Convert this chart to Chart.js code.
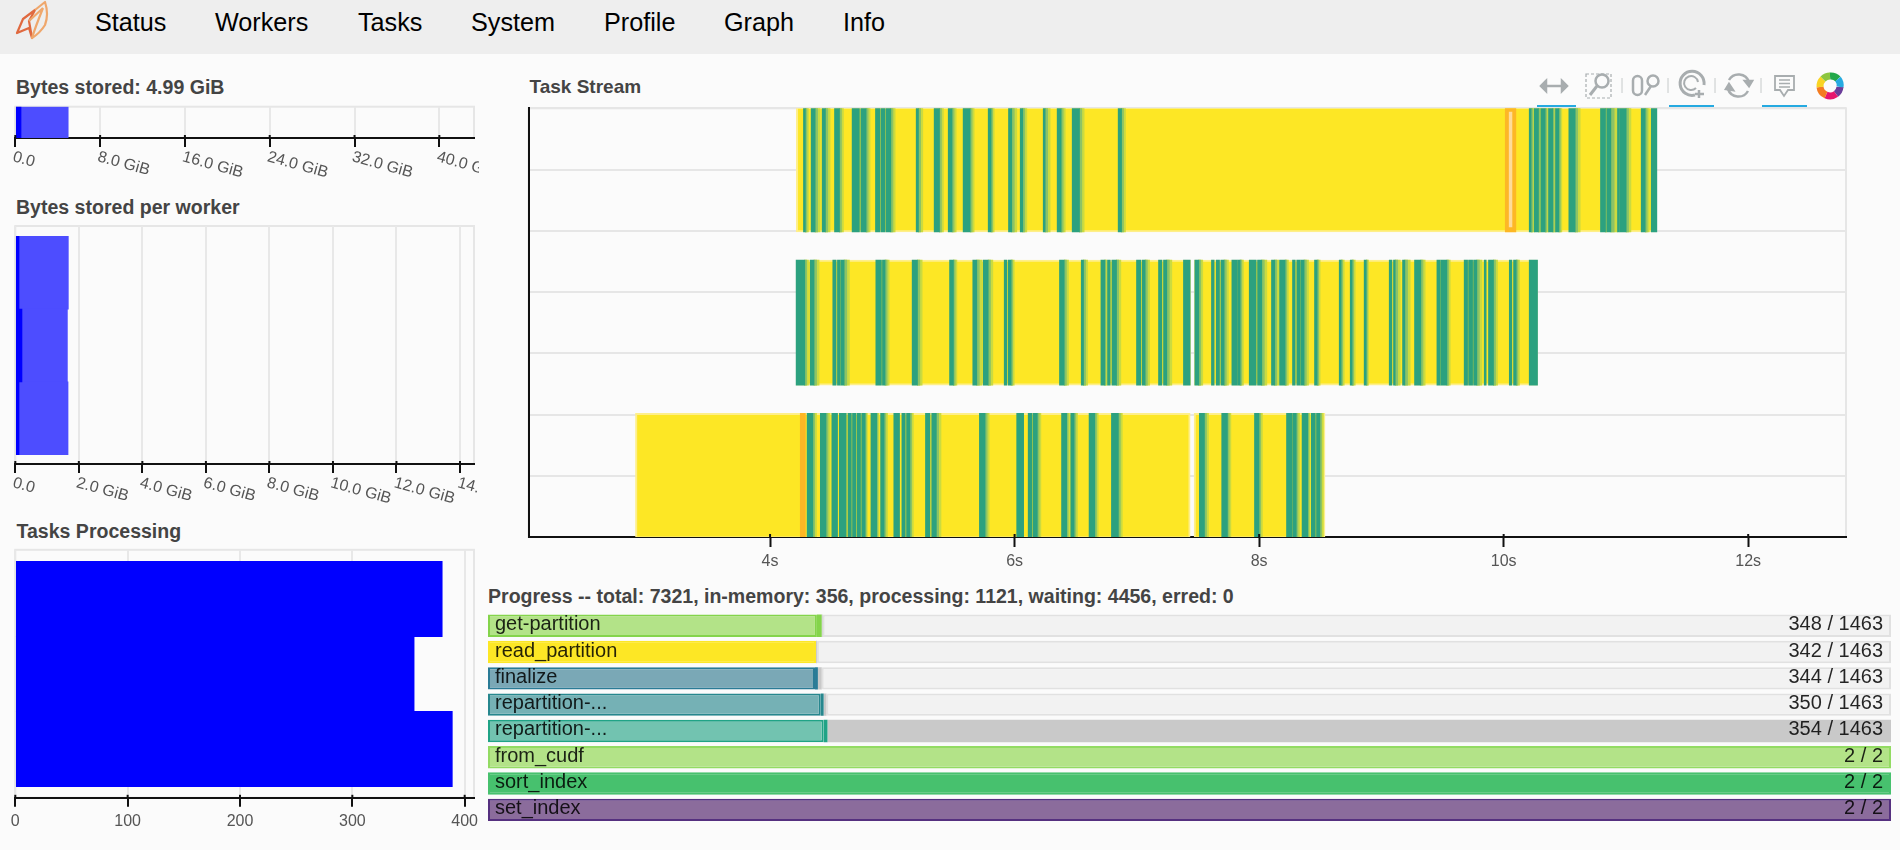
<!DOCTYPE html>
<html>
<head>
<meta charset="utf-8">
<title>Dask dashboard</title>
<script src="https://cdn.jsdelivr.net/npm/chart.js@4"></script>
<style>
html, body { margin: 0; padding: 0; width: 1900px; height: 850px; overflow: hidden; background: #fbfbfb; font-family: "Liberation Sans", Arial, sans-serif; }
#nav { position: absolute; left: 0; top: 0; width: 1900px; height: 54px; background: #eeeeee; }
#nav span { position: absolute; top: 0; line-height: 45px; font-size: 25.2px; color: #000; }
.title { position: absolute; font-weight: bold; font-size: 19.55px; line-height: 22px; color: #444; white-space: nowrap; }
canvas { position: absolute; }
svg { position: absolute; left: 0; top: 0; }
</style>
</head>
<body>
<div id="nav">
  <span style="left:95px">Status</span>
  <span style="left:215px">Workers</span>
  <span style="left:358px">Tasks</span>
  <span style="left:471px">System</span>
  <span style="left:604px">Profile</span>
  <span style="left:724px">Graph</span>
  <span style="left:843px">Info</span>
</div>
<svg width="1900" height="120" fill="none">
  <!-- logo -->
  <g stroke-width="2.2" stroke-linejoin="round">
    <path d="M17 33 L23 19 L35 10 L29 21 L32 38 L29 28 Z" stroke="#e0693f" />
    <path d="M29 21 L43 8 M35 10 L45 2 Q49 14 45 25 Q40 33 32 38 Q35 28 43 8" stroke="#efa76c" />
  </g>
  <!-- toolbar -->
  <g stroke="#a8adaf" stroke-width="2.5">
    <path d="M1544 86 H1564" />
    <path d="M1546 81 L1541 86 L1546 91 Z M1562 81 L1567 86 L1562 91 Z" fill="#a8adaf" />
    <rect x="1586" y="74" width="25" height="24" stroke-width="1.2" stroke-dasharray="3 2" />
    <circle cx="1602" cy="81" r="6.5" />
    <path d="M1597 86 L1590 95" stroke-width="3" />
    <rect x="1633" y="76" width="9" height="19" rx="4.5" />
    <circle cx="1653" cy="81" r="5.5" />
    <path d="M1651 86 L1645 95" />
    <path d="M1695 95 A12 12 0 1 1 1704 85" stroke-width="3" />
    <path d="M1696 88 A7 7 0 1 1 1698 82" stroke-width="2" />
    <path d="M1699 90 V98 M1695 94 H1704" stroke-width="2.5" />
    <path d="M1729 80 A11 11 0 0 1 1749 82 M1748 91 A11 11 0 0 1 1728 89" />
    <path d="M1745 81 L1752 81 L1749 86 Z M1726 89 L1733 90 L1729 84 Z" fill="#a8adaf" />
    <path d="M1775 76 H1794 V90 H1788 L1784 96 L1780 90 H1775 Z" stroke-width="1.8" />
    <path d="M1779 80 H1790 M1779 83.5 H1790 M1779 87 H1790" stroke-width="1.5" />
    <path d="M1622 78 V93 M1668 78 V93 M1715 78 V93 M1761 78 V93" stroke="#cfd2d3" stroke-width="1.2" />
  </g>
  <g stroke-width="7" fill="none">
    <path d="M1830 76 A10 10 0 0 1 1838 79" stroke="#22a84a" />
    <path d="M1838 79 A10 10 0 0 1 1840 87" stroke="#26aae1" />
    <path d="M1840 87 A10 10 0 0 1 1836 94" stroke="#6a3d9a" />
    <path d="M1836 94 A10 10 0 0 1 1826 95" stroke="#e6156e" />
    <path d="M1826 95 A10 10 0 0 1 1820 87" stroke="#f47b20" />
    <path d="M1820 87 A10 10 0 0 1 1823 79" stroke="#f9d423" />
    <path d="M1823 79 A10 10 0 0 1 1830 76" stroke="#8cc63f" />
  </g>
  <g fill="#26aae1">
    <rect x="1537" y="105" width="39" height="3" />
    <rect x="1669" y="105" width="45" height="3" />
    <rect x="1762" y="105" width="45" height="3" />
  </g>
</svg>

<div class="title" style="left:16px;top:76px">Bytes stored: 4.99 GiB</div>
<canvas id="storedChart" width="469" height="80" style="left:10px;top:100px"></canvas>
<div class="title" style="left:16px;top:196px">Bytes stored per worker</div>
<canvas id="workerChart" width="469" height="292" style="left:10px;top:220px"></canvas>
<div class="title" style="left:16.5px;top:520px">Tasks Processing</div>
<canvas id="processingChart" width="469" height="302" style="left:10px;top:543px"></canvas>
<div class="title" style="left:529.5px;top:76px;font-size:19px">Task Stream</div>
<canvas id="streamChart" width="1330" height="475" style="left:525px;top:100px"></canvas>
<div class="title" style="left:488px;top:585px">Progress -- total: 7321, in-memory: 356, processing: 1121, waiting: 4456, erred: 0</div>
<canvas id="progressChart" width="1420" height="225" style="left:480px;top:605px"></canvas>

<script>
// bytes stored (GiB)
var storedTotal = [4.99];
var storedSpilled = [0.54];
var workerBytes = [1.67, 1.64, 1.66];
var workerSpilled = [0.117, 0.21, 0.117];
// tasks processing per worker
var workerTasks = [380, 355, 389];
var processingTicks = [0, 100, 200, 300, 400];

// progress rows
var progressNames = ["get-partition", "read_partition", "finalize", "repartition-...", "repartition-...", "from_cudf", "sort_index", "set_index"];
var progressTotal = [1463, 1463, 1463, 1463, 1463, 2, 2, 2];
var progressReleased = [343, 342, 341, 347, 350, 2, 2, 2];
var progressMemory = [5, 0, 3, 3, 4, 0, 0, 0];
var progressProcessing = [1, 1, 4, 3, 1109, 0, 0, 0];
var progressLight = ["#b3e388", "#fde725", "#7aa8b6", "#75b1b5", "#72c3b0", "#b3e388", "#47c16e", "#8b6c9c"];
var progressDark = ["#84d44b", "#fde725", "#2a7b96", "#27878e", "#20a386", "#93db63", "#47c16e", "#55307f"];

// task stream: seconds, one list per kind of task, per worker row
var streamRows = [3, 2, 1];
var streamGrid = [0.6, 1.0, 1.4, 1.8, 2.2, 2.6, 3.0, 3.4];
var readTop = [[4.215, 11.25]];
var readMid = [[4.213, 7.44], [7.47, 10.277]];
var readLow = [[2.899, 7.436], [7.468, 8.539]];
var transferTop = [[10.013, 10.10]];
var transferMid = [];
var transferLow = [[4.247, 4.289]];
var transferInner = [[10.045, 10.068]];

var shuffleTop = [[4.273,4.289],[4.336,4.369],[4.426,4.453],[4.527,4.568],[4.671,4.731],[4.742,4.786],[4.862,4.900],[4.908,4.941],[4.949,4.988],
  [5.195,5.214],[5.342,5.386],[5.457,5.489],[5.579,5.637],[5.784,5.808],[5.950,5.977],[6.046,6.067],[6.234,6.250],[6.348,6.381],[6.471,6.531],[6.847,6.875],
  [10.209,10.225],[10.250,10.285],[10.304,10.340],[10.367,10.402],[10.424,10.452],[10.533,10.585],[10.792,10.833],[10.844,10.877],[10.931,10.948],[10.953,11.002],[11.125,11.158],[11.207,11.253]];
var fadeTop = [[4.289,4.314],[4.369,4.409],[4.453,4.491],[4.568,4.600],[4.786,4.818],[4.988,5.023],[5.214,5.249],[5.386,5.418],[5.489,5.522],[5.637,5.669],[5.808,5.833],[5.977,6.018],[6.067,6.100],[6.250,6.291],[6.381,6.414],[6.531,6.569],[6.875,6.907],
  [10.225,10.250],[10.285,10.304],[10.340,10.367],[10.402,10.424],[10.452,10.476],[10.585,10.626],[10.833,10.844],[10.877,10.931],[11.002,11.041],[11.158,11.190]];

var shuffleMid = [[4.213,4.284],[4.328,4.360],[4.513,4.540],[4.551,4.573],[4.578,4.606],[4.865,4.911],[4.919,4.941],[5.162,5.206],[5.468,5.500],[5.658,5.691],[5.743,5.784],[5.915,5.937],[5.948,5.972],[6.367,6.406],[6.545,6.564],[6.706,6.738],[6.760,6.782],[6.796,6.834],[6.997,7.033],[7.044,7.068],[7.177,7.205],[7.218,7.245],
  [7.381,7.436],[7.474,7.507],[7.610,7.632],[7.649,7.676],[7.687,7.714],[7.777,7.818],[7.823,7.845],[7.919,7.976],[7.987,8.022],[8.101,8.128],[8.167,8.213],[8.273,8.295],[8.308,8.336],[8.341,8.368],[8.453,8.475],[8.655,8.671],[8.745,8.761],[8.859,8.876],[9.064,9.086],[9.099,9.113],[9.173,9.192],[9.271,9.323],[9.454,9.481],[9.486,9.536],[9.677,9.705],[9.713,9.746],[9.754,9.781],[9.841,9.857],[9.876,9.917],[10.046,10.067],[10.081,10.103],[10.209,10.277]];
var fadeMid = [[4.284,4.314],[4.360,4.401],[4.606,4.649],[4.941,4.974],[5.206,5.244],[5.500,5.528],[5.691,5.732],[5.784,5.822],[5.972,5.997],[6.406,6.441],[6.564,6.597],[6.738,6.755],[6.834,6.869],[7.068,7.104],[7.245,7.286],
  [7.507,7.539],[7.714,7.749],[7.845,7.872],[8.022,8.063],[8.128,8.160],[8.213,8.240],[8.368,8.404],[8.475,8.499],[8.671,8.696],[8.761,8.786],[8.876,8.895],[9.113,9.154],[9.192,9.236],[9.323,9.358],[9.536,9.563],[9.781,9.822],[9.917,9.950],[10.103,10.130]];

var shuffleLow = [[4.303,4.350],[4.411,4.458],[4.505,4.552],[4.566,4.623],[4.637,4.665],[4.674,4.703],[4.712,4.740],[4.749,4.778],[4.825,4.872],[4.904,4.933],[5.012,5.059],[5.078,5.106],[5.116,5.144],[5.271,5.308],[5.322,5.360],[5.712,5.759],[6.017,6.074],[6.111,6.140],[6.149,6.186],[6.384,6.426],[6.459,6.487],[6.609,6.656],[6.792,6.849],[7.511,7.553],[7.694,7.741],[7.962,7.999],[8.224,8.271],[8.276,8.304],[8.351,8.398],[8.427,8.460],[8.469,8.497]];
var fadeLow = [[4.350,4.380],[4.458,4.490],[4.778,4.796],[4.872,4.890],[4.933,4.961],[5.144,5.172],[5.360,5.398],[5.759,5.792],[6.186,6.215],[6.426,6.449],[6.487,6.515],[6.656,6.684],[6.849,6.881],[7.553,7.586],[7.741,7.769],[7.999,8.027],[8.304,8.332],[8.398,8.417],[8.497,8.525]];

var FONT = '"Liberation Sans", Arial, sans-serif';

// bokeh style frame round the plot
var framePlugin = {
  id: 'frame',
  beforeDraw: function(chart) {
    var a = chart.chartArea, c = chart.ctx;
    c.save();
    c.strokeStyle = '#e6e6e6';
    c.lineWidth = 2;
    c.strokeRect(a.left, a.top, a.right - a.left, a.bottom - a.top);
    c.restore();
  }
};
// ticks poke a little into the plot
var innerTicks = {
  id: 'innerTicks',
  afterDraw: function(chart) {
    var s = chart.scales.x, c = chart.ctx;
    c.save();
    c.strokeStyle = '#111';
    c.lineWidth = 2;
    for (var i = 0; i < s.ticks.length; i++) {
      var x = s.getPixelForTick(i);
      c.beginPath(); c.moveTo(x, s.top - 3); c.lineTo(x, s.top); c.stroke();
    }
    c.restore();
  }
};
// chart.js anchors rotated labels at their end, these hang from their start
var slantLabels = {
  id: 'slantLabels',
  afterDraw: function(chart) {
    var s = chart.scales.x, c = chart.ctx;
    c.save();
    c.fillStyle = '#555';
    c.font = '16px ' + FONT;
    c.textAlign = 'left';
    c.textBaseline = 'top';
    for (var i = 0; i < s.ticks.length; i++) {
      c.save();
      c.translate(s.getPixelForTick(i), s.top + 11);
      c.rotate(0.27);
      c.fillText(s.ticks[i].label, 0, 0);
      c.restore();
    }
    c.restore();
  }
};
// task names and counts inside the progress bars
var progressText = {
  id: 'progressText',
  afterDraw: function(chart) {
    var a = chart.chartArea, c = chart.ctx, s = chart.scales.y;
    c.save();
    c.font = '20px ' + FONT;
    c.fillStyle = 'rgba(0,0,0,0.85)';
    c.textBaseline = 'middle';
    for (var i = 0; i < progressNames.length; i++) {
      var y = s.getPixelForTick(i) - 1;
      var done = progressReleased[i] + progressMemory[i];
      c.textAlign = 'left';
      c.fillText(progressNames[i], a.left + 7, y);
      c.textAlign = 'right';
      c.fillText(done + ' / ' + progressTotal[i], a.right - 8, y);
    }
    c.restore();
  }
};

function fixedXAxis(height) {
  return function(s) { s.height = height; s.paddingLeft = 0; s.paddingRight = 0; };
}
function gibLabel(v) { return v === 0 ? '0.0' : v.toFixed(1) + ' GiB'; }
function baseOptions(xAxis, yAxis, padding) {
  return {
    indexAxis: 'y',
    responsive: false,
    animation: false,
    events: [],
    layout: { padding: padding },
    plugins: { legend: { display: false }, tooltip: { enabled: false } },
    scales: { x: xAxis, y: yAxis }
  };
}
function memoryAxis(max, step, height) {
  return {
    type: 'linear', min: 0, max: max, afterFit: fixedXAxis(height),
    grid: { color: '#e8e8e8', lineWidth: 2, tickColor: '#111', tickWidth: 2, tickLength: 9 },
    border: { color: '#111', width: 2 },
    ticks: { display: false, stepSize: step, includeBounds: false, callback: gibLabel }
  };
}
function hiddenRows(min, max) {
  return { type: 'linear', min: min, max: max, reverse: true, display: false, offset: false };
}
function points(values) {
  return values.map(function(v, i) { return { x: v, y: i }; });
}
function blueBar(values, color, thick, order) {
  return { data: points(values), backgroundColor: color, borderWidth: 0, barThickness: thick, grouped: false, order: order };
}

new Chart(document.getElementById('storedChart'), {
  type: 'bar',
  data: { datasets: [
    blueBar(storedSpilled, '#0000ff', 31.5, 0),
    blueBar(storedTotal, '#4d4dff', 31.5, 1)
  ] },
  options: baseOptions(memoryAxis(43.27, 8, 42), hiddenRows(-0.5, 0.5), { left: 5.3, right: 5, top: 6.7 }),
  plugins: [framePlugin, innerTicks, slantLabels]
});

new Chart(document.getElementById('workerChart'), {
  type: 'bar',
  data: { datasets: [
    blueBar(workerSpilled, '#0000ff', 72.9, 0),
    blueBar(workerBytes, '#4d4dff', 72.9, 1)
  ] },
  options: baseOptions(memoryAxis(14.44, 2, 48), hiddenRows(-0.642, 2.63), { left: 5.3, right: 5, top: 6 }),
  plugins: [framePlugin, innerTicks, slantLabels]
});

new Chart(document.getElementById('processingChart'), {
  type: 'bar',
  data: { datasets: [blueBar(workerTasks, '#0000ff', 75.2, 0)] },
  options: baseOptions({
    type: 'linear', min: 0, max: 408.3, afterFit: fixedXAxis(47.2),
    afterBuildTicks: function(s) { s.ticks = processingTicks.map(function(v) { return { value: v }; }); },
    grid: { color: '#e8e8e8', lineWidth: 2, tickColor: '#111', tickWidth: 2, tickLength: 9 },
    border: { color: '#111', width: 2 },
    ticks: { maxRotation: 0, padding: 5, color: '#555', font: { family: FONT, size: 16 } }
  }, hiddenRows(-0.656, 2.65), { left: 5.3, right: 5, top: 6.8 }),
  plugins: [framePlugin, innerTicks]
});

function rowBars(top, mid, low) {
  var rows = [top, mid, low], out = [];
  rows.forEach(function(spans, r) {
    spans.forEach(function(s) { out.push({ x: s, y: streamRows[r] }); });
  });
  return out;
}
function halves(spans) {
  return spans.map(function(s) { return [s[0], (s[0] + s[1]) / 2]; });
}
function streamSet(data, color, order, thick) {
  return { data: data, backgroundColor: color, barThickness: thick || 125, grouped: false, order: order, borderWidth: 0 };
}
var readSet = streamSet(rowBars(readTop, readMid, readLow), '#fde725', 5);
readSet.borderColor = '#feef8a';
readSet.borderWidth = 2;
readSet.borderSkipped = false;

new Chart(document.getElementById('streamChart'), {
  type: 'bar',
  data: { datasets: [
    streamSet(rowBars(shuffleTop, shuffleMid, shuffleLow), '#2ca17f', 0),
    streamSet(rowBars(halves(fadeTop), halves(fadeMid), halves(fadeLow)), '#8cc366', 1),
    streamSet(rowBars(fadeTop, fadeMid, fadeLow), '#cbdb40', 2),
    streamSet(rowBars(transferInner, [], []), '#fedc9a', 3, 115),
    streamSet(rowBars(transferTop, transferMid, transferLow), '#fdb725', 4),
    readSet
  ] },
  options: baseOptions({
    type: 'linear', min: 2.025, max: 12.8, afterFit: fixedXAxis(38),
    grid: { display: true, drawOnChartArea: false, tickColor: '#111', tickWidth: 2, tickLength: 10 },
    border: { color: '#111', width: 2 },
    ticks: { stepSize: 2, includeBounds: false, maxRotation: 0, padding: 5, color: '#555', font: { family: FONT, size: 16 },
      callback: function(v) { return v + 's'; } }
  }, {
    type: 'linear', min: 0.6, max: 3.4, offset: false,
    afterBuildTicks: function(s) { s.ticks = streamGrid.map(function(v) { return { value: v }; }); },
    afterFit: function(s) { s.width = 0; },
    grid: { color: '#e6e6e6', lineWidth: 2, drawTicks: false, offset: false },
    border: { color: '#111', width: 2 },
    ticks: { display: false }
  }, { left: 3.6, right: 9, top: 8.3 }),
  plugins: [framePlugin, innerTicks]
});

function ofTotal(values) {
  return values.map(function(v, i) { return v / progressTotal[i]; });
}
var progressRest = progressTotal.map(function(t, i) {
  return t - progressReleased[i] - progressMemory[i] - progressProcessing[i];
});
new Chart(document.getElementById('progressChart'), {
  type: 'bar',
  data: {
    labels: progressNames,
    datasets: [
      { data: ofTotal(progressReleased), backgroundColor: progressLight, borderColor: progressDark, borderWidth: 2, borderSkipped: false },
      { data: ofTotal(progressMemory), backgroundColor: progressDark, borderWidth: 0 },
      { data: ofTotal(progressProcessing), backgroundColor: '#c9c9c9', borderWidth: 0 },
      { data: ofTotal(progressRest), backgroundColor: '#f2f2f2', borderColor: '#e1e1e1', borderWidth: 2, borderSkipped: false }
    ]
  },
  options: (function() {
    var o = baseOptions(
      { type: 'linear', min: 0, max: 1, stacked: true, display: false },
      { type: 'category', stacked: true, display: false },
      { left: 8, right: 9, top: 7.6, bottom: 7 }
    );
    o.datasets = { bar: { barPercentage: 0.85, categoryPercentage: 1 } };
    return o;
  })(),
  plugins: [progressText]
});
</script>
</body>
</html>
